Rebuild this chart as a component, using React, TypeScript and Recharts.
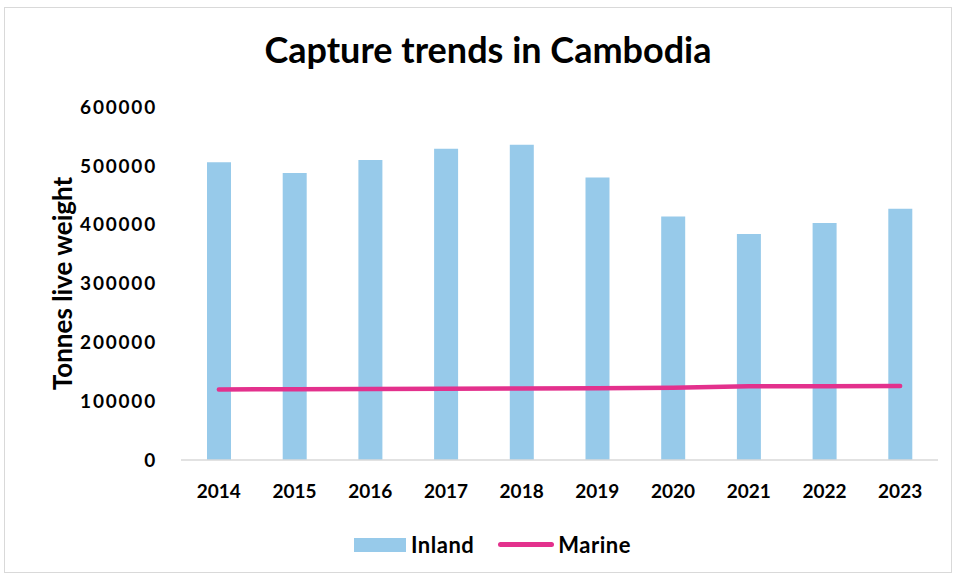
import React from "react";
import {
  ComposedChart,
  Bar,
  Line,
  XAxis,
  YAxis,
  Legend,
  Label,
} from "recharts";

const years = ["2014", "2015", "2016", "2017", "2018", "2019", "2020", "2021", "2022", "2023"];
const inland = [506000, 488000, 510000, 529000, 536000, 480000, 414000, 384000, 403000, 427000];
const marine = [120000, 120300, 120500, 121000, 121500, 122000, 123000, 125500, 125500, 125700];
const yTicks = [0, 100000, 200000, 300000, 400000, 500000, 600000];

const FONT = "Lato, 'Open Sans', sans-serif";
const BAR = "#97CAEA";
const LINE = "#E3318D";

const data = years.map((year, i) => ({ year, Inland: inland[i], Marine: marine[i] }));

function LegendBox() {
  return (
    <div style={{ display: "flex", alignItems: "center", fontFamily: FONT, fontWeight: 700, fontSize: 22, letterSpacing: 0.5, color: "#000" }}>
      <span style={{ display: "inline-block", width: 52, height: 14, background: BAR, marginRight: 5 }} />
      <span>Inland</span>
      <span style={{ display: "inline-block", width: 56, height: 5, borderRadius: 3, background: LINE, marginLeft: 24, marginRight: 4 }} />
      <span>Marine</span>
    </div>
  );
}

export default function App() {
  return (
    <div style={{ position: "absolute", left: 0, top: 0, width: 956, height: 579, background: "#fff" }}>
      <div
        style={{
          position: "absolute",
          left: 4,
          top: 7,
          width: 946,
          height: 564,
          border: "1px solid #d9d9d9",
        }}
      />
      <div
        style={{
          position: "absolute",
          left: 0,
          top: 27,
          width: 976,
          textAlign: "center",
          fontFamily: FONT,
          fontWeight: 700,
          fontSize: 36,
          color: "#000",
        }}
      >
        Capture trends in Cambodia
      </div>
      <ComposedChart
        width={956}
        height={579}
        data={data}
        margin={{ top: 107, right: 18, bottom: 79, left: 0 }}
        style={{ position: "absolute", left: 0, top: 0 }}
      >
        <XAxis
          dataKey="year"
          height={40}
          tickSize={0}
          tickMargin={25}
          axisLine={{ stroke: "#d9d9d9", strokeWidth: 1.5 }}
          tickLine={false}
          tick={{ fontFamily: FONT, fontWeight: 700, fontSize: 19, fill: "#000" }}
        />
        <YAxis
          width={181}
          domain={[0, 600000]}
          ticks={yTicks}
          tickSize={0}
          tickMargin={24}
          axisLine={false}
          tickLine={false}
          tick={{ fontFamily: FONT, fontWeight: 700, fontSize: 19, fill: "#000", letterSpacing: 1.8 }}
        >
          <Label
            content={({ viewBox }: any) => {
              const x = viewBox.x + 62;
              const y = viewBox.y + viewBox.height / 2;
              return (
                <text
                  x={x}
                  y={y}
                  transform={`rotate(-90 ${x} ${y})`}
                  textAnchor="middle"
                  dominantBaseline="central"
                  fontFamily={FONT}
                  fontWeight={700}
                  fontSize={26}
                  fill="#000"
                >
                  Tonnes live weight
                </text>
              );
            }}
          />
        </YAxis>
        <Bar dataKey="Inland" fill={BAR} barSize={24} isAnimationActive={false} />
        <Line
          dataKey="Marine"
          type="linear"
          stroke={LINE}
          strokeWidth={4.5}
          strokeLinecap="round"
          dot={false}
          activeDot={false}
          isAnimationActive={false}
        />
        <Legend
          verticalAlign="middle"
          content={() => <LegendBox />}
          wrapperStyle={{ left: 354, top: 531, width: 320 }}
        />
      </ComposedChart>
    </div>
  );
}
